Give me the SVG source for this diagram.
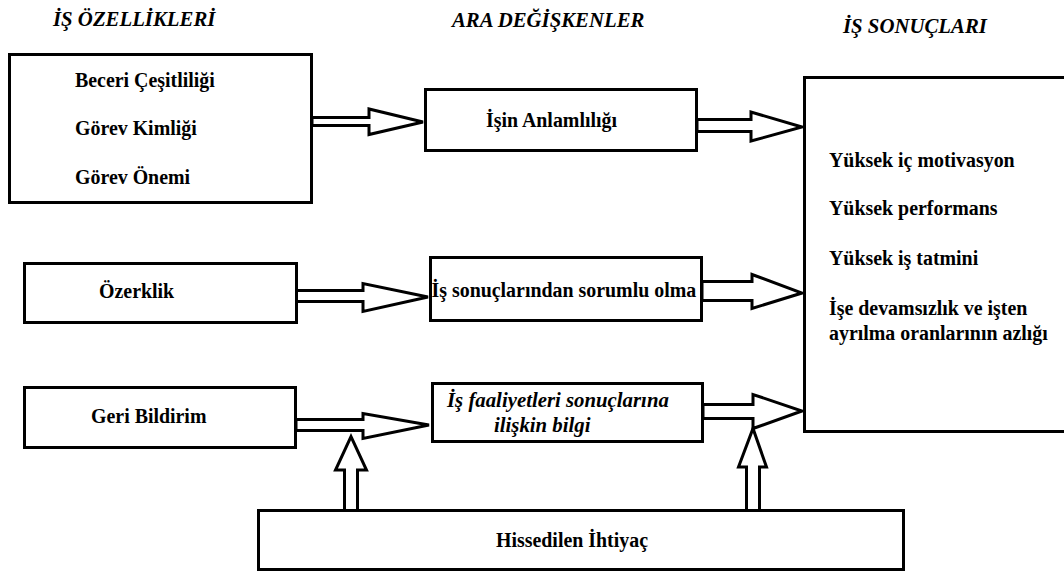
<svg xmlns="http://www.w3.org/2000/svg" width="1064" height="572" viewBox="0 0 1064 572">
  <style>
    .box { fill: #fff; stroke: #000; stroke-width: 3; }
    .arrow { fill: #fff; stroke: #000; stroke-width: 3; stroke-linejoin: miter; }
    .t { font-family: "Liberation Serif", "Times New Roman", serif; font-weight: bold; font-size: 19.9px; fill: #000; }
    .ti { font-family: "Liberation Serif", "Times New Roman", serif; font-weight: bold; font-style: italic; font-size: 20.8px; fill: #000; }
    .h { font-family: "Liberation Serif", "Times New Roman", serif; font-weight: bold; font-style: italic; font-size: 20.8px; fill: #000; }
  </style>
  <rect width="1064" height="572" fill="#fff"/>

  <!-- column headings -->
  <g id="headings">
    <text class="h" x="53" y="26">İŞ ÖZELLİKLERİ</text>
    <text class="h" x="452" y="27">ARA DEĞİŞKENLER</text>
    <text class="h" x="843" y="33">İŞ SONUÇLARI</text>
  </g>

  <!-- block arrows -->
  <g id="connectors">
    <polygon class="arrow" points="312,117.5 369,117.5 369,109 423,122 369,134.5 369,125.5 312,125.5"/>
    <polygon class="arrow" points="697,119.5 751,119.5 751,112 802,127 751,141 751,131.5 697,131.5"/>
    <polygon class="arrow" points="296,290.5 363,290.5 363,283.5 428,297 363,311.5 363,301.5 296,301.5"/>
    <polygon class="arrow" points="702,281.5 752,281.5 752,274.5 802,293 752,308.5 752,300.5 702,300.5"/>
    <polygon class="arrow" points="296,419.5 363,419.5 363,413.5 429,425 363,438.5 363,430.5 296,430.5"/>
    <polygon class="arrow" points="703,404.5 753,404.5 753,394.5 802,411 753,428.5 753,418.5 703,418.5"/>
    <polygon class="arrow" points="344.5,511 344.5,470 335.5,470 351,436.5 366.5,470 357.5,470 357.5,511"/>
    <polygon class="arrow" points="746.5,511 746.5,467 738.5,467 753,428.5 766.5,467 759.5,467 759.5,511"/>
  </g>

  <g id="node-is-ozellikleri">
    <rect class="box" x="9.5" y="54.5" width="302" height="148"/>
    <text class="t" x="75" y="87">Beceri Çeşitliliği</text>
    <text class="t" x="75" y="135">Görev Kimliği</text>
    <text class="t" x="75" y="184">Görev Önemi</text>
  </g>

  <g id="node-isin-anlamliligi">
    <rect class="box" x="425.5" y="89.5" width="271" height="61"/>
    <text class="t" x="486" y="127">İşin Anlamlılığı</text>
  </g>

  <g id="node-ozerklik">
    <rect class="box" x="24.5" y="263.5" width="272" height="59"/>
    <text class="t" x="99" y="298">Özerklik</text>
  </g>

  <g id="node-sorumluluk">
    <rect class="box" x="430.5" y="257.5" width="271" height="63"/>
    <text class="t" x="431.5" y="296.5">İş sonuçlarından sorumlu olma</text>
  </g>

  <g id="node-geri-bildirim">
    <rect class="box" x="24.5" y="387.5" width="271" height="60"/>
    <text class="t" x="91" y="423">Geri Bildirim</text>
  </g>

  <g id="node-bilgi">
    <rect class="box" x="432.5" y="383.5" width="270" height="58"/>
    <text class="ti" x="447" y="407">İş faaliyetleri sonuçlarına</text>
    <text class="ti" x="494" y="432">ilişkin bilgi</text>
  </g>

  <g id="node-is-sonuclari">
    <rect class="box" x="804.5" y="77.5" width="270" height="354"/>
    <text class="t" x="829" y="167">Yüksek iç motivasyon</text>
    <text class="t" x="829" y="215">Yüksek performans</text>
    <text class="t" x="829" y="265">Yüksek iş tatmini</text>
    <text class="t" x="829" y="315">İşe devamsızlık ve işten</text>
    <text class="t" x="829" y="340">ayrılma oranlarının azlığı</text>
  </g>

  <g id="node-ihtiyac">
    <rect class="box" x="258.5" y="510.5" width="645" height="59"/>
    <text class="t" x="496" y="547">Hissedilen İhtiyaç</text>
  </g>
</svg>
